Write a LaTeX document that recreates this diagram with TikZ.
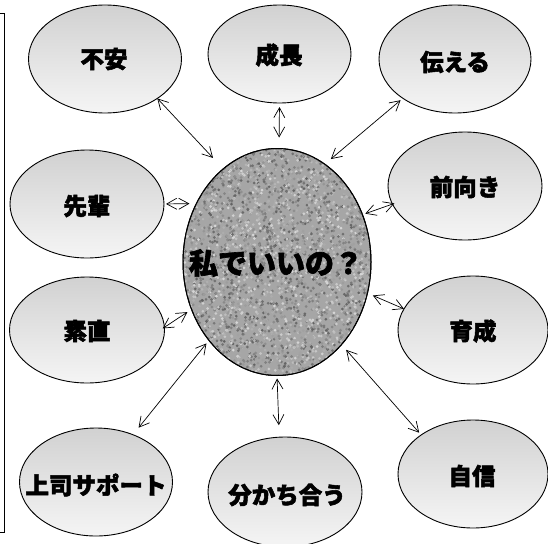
\documentclass[tikz,border=0pt]{standalone}
\usepackage{fontspec}
\newfontfamily\cjk{Noto Sans CJK JP}[FakeBold=2.2]
\usetikzlibrary{shapes.geometric,arrows.meta}
\tikzset{
  bubble/.style={ellipse, draw=black, line width=0.9pt, inner sep=0pt, outer sep=0pt,
    top color=black!18, bottom color=black!4},
  lbl/.style={inner sep=0pt, font=\cjk\bfseries\fontsize{23.5}{23.5}\selectfont},
  hub/.style={ellipse, draw=black, line width=1pt, inner sep=0pt, outer sep=0pt,
    minimum width=188pt, minimum height=227pt},
  link/.style={arrows={Straight Barb[length=10pt,width=11pt]-Straight Barb[length=10pt,width=11pt]}, line width=0.7pt},
}
\begin{document}
\begin{tikzpicture}[x=1pt,y=-1pt]
\useasboundingbox (0,0) rectangle (548,543);
% bracket
\draw[line width=1pt] (0,14) -- (4.5,14) -- (4.5,532) -- (0,532);
% central node with noise
\node[hub, fill=black!35] (c) at (277,262) {};
\begin{scope}
  \clip (277,262) ellipse [x radius=94pt, y radius=113.5pt];
  \pgfmathsetseed{7}
  \foreach \i in {1,...,3600}{
    \pgfmathsetmacro\px{182+190*rnd}
    \pgfmathsetmacro\py{147+230*rnd}
    \pgfmathsetmacro\gv{int(16+46*rnd)}
    \fill[black!\gv] (\px,\py) circle (1.5pt);
  }
\end{scope}
\node[hub] (c2) at (277,262) {};
\node[font=\cjk\bfseries\fontsize{29}{29}\selectfont] (ct) at (276,263) {私でいいの？};
% outer bubbles
\node[bubble, minimum width=153pt, minimum height=108pt] (fuan) at (105,59) {};
\node[bubble, minimum width=143pt, minimum height=98pt] (seicho) at (279.5,54) {};
\node[bubble, minimum width=152pt, minimum height=108pt] (tsutaeru) at (455,59) {};
\node[bubble, minimum width=154pt, minimum height=108pt] (maemuki) at (465,186) {};
\node[bubble, minimum width=154pt, minimum height=108pt] (senpai) at (87,204) {};
\node[bubble, minimum width=155pt, minimum height=106pt] (sunao) at (87,330) {};
\node[bubble, minimum width=150pt, minimum height=108pt] (ikusei) at (473,330) {};
\node[bubble, minimum width=153pt, minimum height=108pt] (joshi) at (96,482) {};
\node[bubble, minimum width=154pt, minimum height=110pt] (wakachiau) at (285,492) {};
\node[bubble, minimum width=150pt, minimum height=108pt] (jishin) at (473,474) {};
% labels
\node[lbl] (fuan-t) at (104,59) {不安};
\node[lbl] (seicho-t) at (279,55) {成長};
\node[lbl] (tsutaeru-t) at (455,62) {伝える};
\node[lbl] (maemuki-t) at (465,187) {前向き};
\node[lbl] (senpai-t) at (87,206) {先輩};
\node[lbl] (sunao-t) at (87,331) {素直};
\node[lbl] (ikusei-t) at (473,331) {育成};
\node[lbl] (joshi-t) at (96,485) {上司サポート};
\node[lbl] (wakachiau-t) at (287,495) {分かち合う};
\node[lbl] (jishin-t) at (472,476) {自信};
% connectors
\draw[link, shorten <=15pt, shorten >=0pt] (c.120.6) -- (fuan.-37);
\draw[link, shorten <=11pt, shorten >=4pt] (c.89) -- (seicho.-90);
\draw[link, shorten <=8pt, shorten >=3pt] (c.64.5) -- (tsutaeru.-143.3);
\draw[link, shorten <=3pt, shorten >=-2pt] (c.29.6) -- (maemuki.-166.35);
\draw[link, shorten <=7pt, shorten >=2pt] (c.144.3) -- (senpai.0);
\draw[link, shorten <=5pt, shorten >=-2pt] (c.209.8) -- (sunao.2.1);
\draw[link, shorten <=6pt, shorten >=0pt] (c.-19) -- (ikusei.163.6);
\draw[link, shorten <=4pt, shorten >=9pt] (c.229.2) -- (joshi.52.6);
\draw[link, shorten <=3pt, shorten >=12pt] (c.-90) -- (wakachiau.96);
\draw[link, shorten <=7pt, shorten >=3pt] (c.-52.3) -- (jishin.143.3);
\end{tikzpicture}
\end{document}
